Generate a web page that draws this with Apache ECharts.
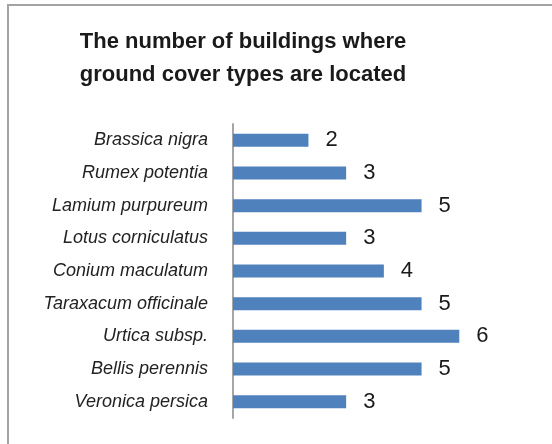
<!DOCTYPE html>
<html>
<head>
<meta charset="utf-8">
<script src="https://cdn.jsdelivr.net/npm/echarts@6/dist/echarts.min.js"></script>
<style>
  html, body { margin: 0; padding: 0; background: #fff; }
  #main { width: 552px; height: 444px; }
</style>
</head>
<body>
<div id="main"></div>
<script>
// ground cover species and building counts, top to bottom
var species = ['Brassica nigra', 'Rumex potentia', 'Lamium purpureum', 'Lotus corniculatus',
  'Conium maculatum', 'Taraxacum officinale', 'Urtica subsp.', 'Bellis perennis', 'Veronica persica'];
var buildings = [2, 3, 5, 3, 4, 5, 6, 5, 3];

var myChart = echarts.init(document.getElementById('main'));

var option = {
  animation: false,
  textStyle: { fontFamily: 'Liberation Sans' },
  title: {
    text: 'The number of buildings where\nground cover types are located',
    left: 238,
    top: 20,
    textAlign: 'center',
    textStyle: {
      fontSize: 22,
      fontWeight: 'bold',
      fontFamily: 'Liberation Sans',
      color: '#1a1a1a',
      lineHeight: 33
    }
  },
  // frame of the chart area (left and top edges only, the rest is cropped)
  graphic: [{
    type: 'polyline',
    shape: { points: [[8, 444], [8, 5], [552, 5]] },
    style: { stroke: '#a3a3a3', lineWidth: 2, fill: null }
  }],
  grid: {
    left: 233,
    top: 124,
    width: 264,
    height: 294
  },
  xAxis: {
    type: 'value',
    min: 0,
    max: 7,
    show: false
  },
  yAxis: {
    type: 'category',
    inverse: true,
    data: species,
    axisLine: { lineStyle: { color: '#a6a6a6', width: 2 } },
    axisTick: { show: false },
    axisLabel: {
      margin: 25,
      fontSize: 18,
      fontStyle: 'italic',
      fontFamily: 'Liberation Sans',
      color: '#222'
    }
  },
  series: [{
    type: 'bar',
    data: buildings,
    barWidth: 13,
    itemStyle: { color: '#4f81bd' },
    label: {
      show: true,
      position: 'right',
      distance: 17,
      fontSize: 22,
      fontFamily: 'Liberation Sans',
      color: '#1a1a1a'
    }
  }]
};

myChart.setOption(option);
</script>
</body>
</html>
